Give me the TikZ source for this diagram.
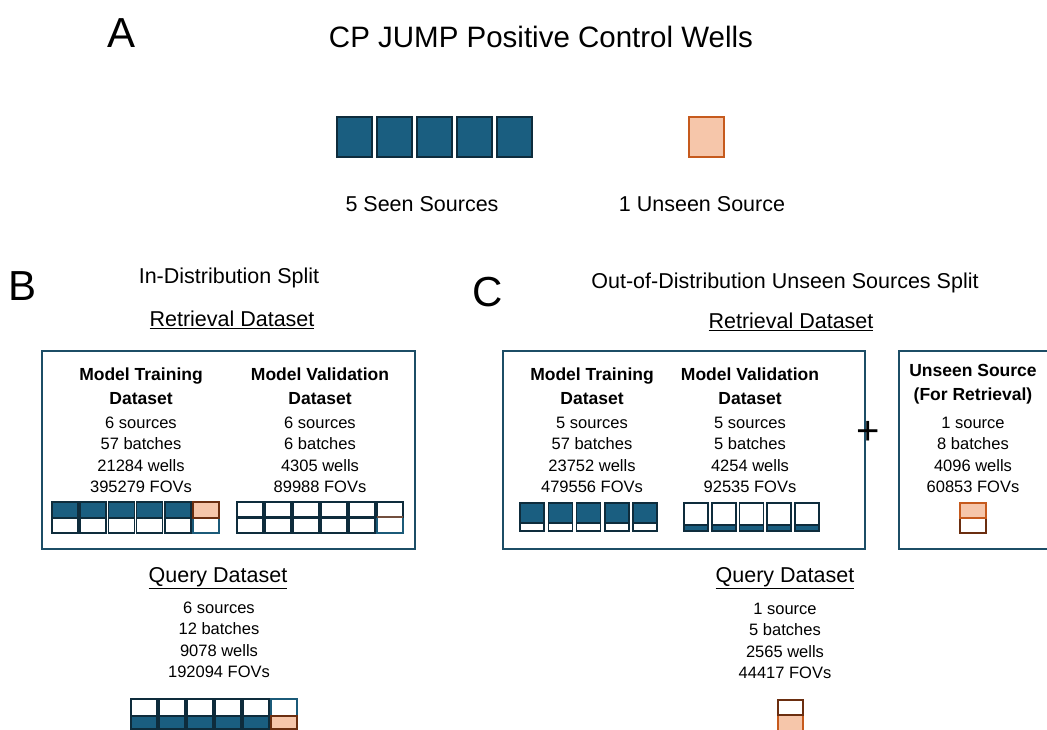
\documentclass[tikz,border=0pt]{standalone}
\usepackage{fontspec}
\setmainfont{Liberation Sans}
\definecolor{cblue}{HTML}{1A5E80}
\definecolor{cdark}{HTML}{0E2C3C}
\definecolor{cteal}{HTML}{1B5A78}
\definecolor{cpeach}{HTML}{F6C6AA}
\definecolor{corange}{HTML}{C65A1D}
\definecolor{cbrown}{HTML}{6B2E10}
\definecolor{cbox}{HTML}{1C4D66}
\newcommand{\fsz}[1]{\fontsize{#1}{#1}\selectfont}
\begin{document}
\begin{tikzpicture}[x=1pt,y=-1pt,
  panel/.style={font=\fsz{42}},
  title/.style={font=\fsz{29.5}},
  mid/.style={font=\fsz{21.5}},
  hd/.style={font=\fsz{17.5}\bfseries, align=center, inner sep=0pt},
  dat/.style={font=\fsz{16.5}, align=center, inner sep=0pt},
  frame/.style={draw=cbox, line width=2.2pt},
  bluebox/.style={fill=cblue, draw=cdark, line width=1.6pt},
  whitebox/.style={fill=white, draw=cdark, line width=1.6pt},
  peachbox/.style={fill=cpeach, draw=corange, line width=1.6pt},
  peachbrown/.style={fill=cpeach, draw=cbrown, line width=1.6pt},
  wbrown/.style={fill=white, draw=cbrown, line width=1.6pt},
  wteal/.style={fill=white, draw=cteal, line width=1.6pt}]
\useasboundingbox (0,0) rectangle (1047,730);
\fill[white] (0,0) rectangle (1047,730);

% ---------- A ----------
\node[panel] (lA) at (122,33) {A};
\node[title] (tA) at (541,37) {CP JUMP Positive Control Wells};
\foreach \i in {0,...,4}{
  \draw[bluebox] ({337+40*\i},117) rectangle ++(35,40);
}
\draw[peachbox] (689,117) rectangle (724,157);
\node[mid] (seen) at (422,204) {5 Seen Sources};
\node[mid] (unseen) at (702,204) {1 Unseen Source};

% ---------- B ----------
\node[panel] (lB) at (23,286) {B};
\node[mid] (tB) at (229,278) {In-Distribution Split};
\node[mid] (rB) at (232,320) {\underline{Retrieval Dataset}};
\draw[frame] (42,351) rectangle (415,549);
\node[hd] (trB) at (141,386) {Model Training\\[6pt]Dataset};
\node[dat] (trBd) at (141,455) {6 sources\\[5pt]57 batches\\[5pt]21284 wells\\[5pt]395279 FOVs};
\node[hd] (vaB) at (320,386) {Model Validation\\[6pt]Dataset};
\node[dat] (vaBd) at (320,455) {6 sources\\[5pt]6 batches\\[5pt]4305 wells\\[5pt]89988 FOVs};
% training icons
\foreach \i in {0,...,4}{
  \draw[whitebox] ({52+28.2*\i},518) rectangle ++(26,15);
  \draw[bluebox] ({52+28.2*\i},502) rectangle ++(26,16);
}
\draw[wteal] (193,518) rectangle ++(26,15);
\draw[peachbrown] (193,502) rectangle ++(26,16);
% validation icons
\foreach \i in {0,...,4}{
  \draw[whitebox] ({237+28*\i},502) rectangle ++(26,31);
  \draw[cdark, line width=3.2pt] ({237+28*\i},517.5) -- ++(26,0);
}
\draw[wteal] (377,517) rectangle ++(26,16);
\draw[whitebox] (377,502) rectangle ++(26,15);
\draw[cbrown!60!gray, line width=2pt] (377,517) -- ++(26,0);
% query
\node[mid] (qB) at (218,578) {\underline{Query Dataset}};
\node[dat] (qBd) at (219,640) {6 sources\\[5pt]12 batches\\[5pt]9078 wells\\[5pt]192094 FOVs};
\foreach \i in {0,...,4}{
  \draw[whitebox] ({131+28*\i},699) rectangle ++(26,17);
  \draw[bluebox] ({131+28*\i},716) rectangle ++(26,13);
}
\draw[wteal] (271,699) rectangle ++(26,17);
\draw[peachbrown] (271,716) rectangle ++(26,13);

% ---------- C ----------
\node[panel] (lC) at (488,292) {C};
\node[mid] (tC) at (785,283) {Out-of-Distribution Unseen Sources Split};
\node[mid] (rC) at (791,322) {\underline{Retrieval Dataset}};
\draw[frame] (503,351) rectangle (865,549);
\node[hd] (trC) at (592,386) {Model Training\\[6pt]Dataset};
\node[dat] (trCd) at (592,455) {5 sources\\[5pt]57 batches\\[5pt]23752 wells\\[5pt]479556 FOVs};
\node[hd] (vaC) at (750,386) {Model Validation\\[6pt]Dataset};
\node[dat] (vaCd) at (750,455) {5 sources\\[5pt]5 batches\\[5pt]4254 wells\\[5pt]92535 FOVs};
\foreach \i in {0,...,4}{
  \draw[whitebox] ({520+28.3*\i},523) rectangle ++(24,8);
  \draw[bluebox] ({520+28.3*\i},503) rectangle ++(24,20);
}
\foreach \i in {0,...,4}{
  \draw[bluebox] ({684+27.7*\i},525) rectangle ++(24,6);
  \draw[whitebox] ({684+27.7*\i},503) rectangle ++(24,22);
}
\node[font=\fsz{40}] (plus) at (868,433) {+};
\draw[frame] (899,351) rectangle (1060,549);
\node[hd] (unC) at (973,384) {Unseen Source\\[6pt](For Retrieval)};
\node[dat] (unCd) at (973,455) {1 source\\[5pt]8 batches\\[5pt]4096 wells\\[5pt]60853 FOVs};
\draw[wbrown] (960,518) rectangle (986,533);
\draw[peachbox] (960,503) rectangle (986,518);
% query C
\node[mid] (qC) at (785,578) {\underline{Query Dataset}};
\node[dat] (qCd) at (785,641) {1 source\\[5pt]5 batches\\[5pt]2565 wells\\[5pt]44417 FOVs};
\draw[peachbox] (778,715) rectangle (803,732);
\draw[wbrown] (778,700) rectangle (803,715);
\end{tikzpicture}
\end{document}
